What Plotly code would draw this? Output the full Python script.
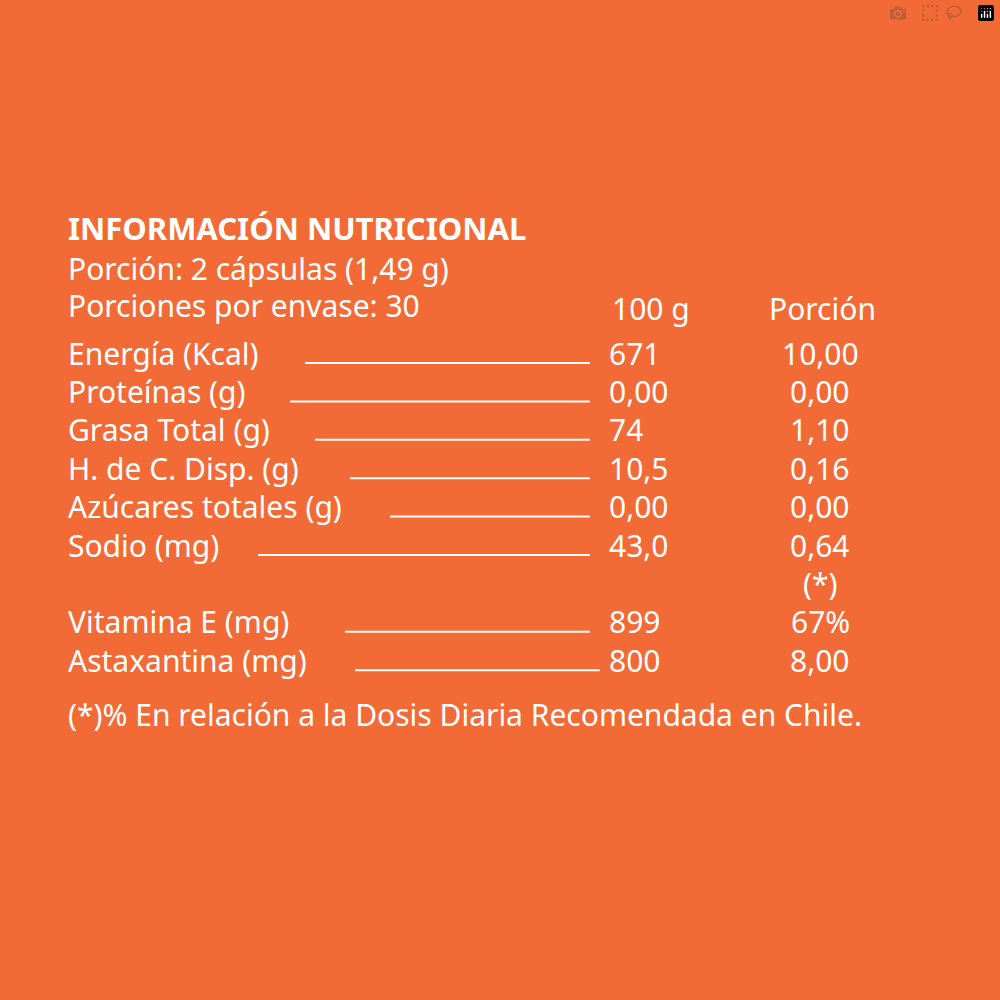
import plotly.graph_objects as go

labels = ["Energía (Kcal)", "Proteínas (g)", "Grasa Total (g)", "H. de C. Disp. (g)",
          "Azúcares totales (g)", "Sodio (mg)", "", "Vitamina E (mg)", "Astaxantina (mg)"]
per100 = ["671", "0,00", "74", "10,5", "0,00", "43,0", "", "899", "800"]
portion = ["10,00", "0,00", "1,10", "0,16", "0,00", "0,64", "(*)", "67%", "8,00"]
line_start = [305, 290, 315, 350, 390, 258, None, 345, 355]
line_end = [590, 590, 590, 590, 590, 590, None, 590, 600]

BG = "#F26A36"
FONT = "Noto Sans"
SIZE = 30
fig = go.Figure()
ann = []
shapes = []

def t(x, y, s, anchor="left", bold=False, size=SIZE):
    ann.append(dict(x=x, y=y, text=("<b>%s</b>" % s) if bold else s, showarrow=False,
                    xanchor=anchor, yanchor="middle", xref="x", yref="y",
                    font=dict(family=FONT, size=size, color="white")))

t(66, 228, "INFORMACIÓN NUTRICIONAL", bold=True, size=31)
t(66, 268, "Porción: 2 cápsulas (1,49 g)")
t(66, 305, "Porciones por envase: 30")
t(610, 308, "100 g")
t(822, 308, "Porción", anchor="center")
y0, dy = 353, 38.4
for i, lab in enumerate(labels):
    y = y0 + i * dy
    if lab:
        t(66, y, lab)
    if per100[i]:
        t(607, y, per100[i])
    t(820, y, portion[i], anchor="center")
    if line_start[i] is not None:
        shapes.append(dict(type="line", x0=line_start[i], x1=line_end[i], y0=y + 10, y1=y + 10,
                           xref="x", yref="y", line=dict(color="white", width=2)))
t(66, 714, "(*)% En relación a la Dosis Diaria Recomendada en Chile.")

fig.add_trace(go.Scatter(x=[0], y=[0], mode="markers", marker=dict(opacity=0), hoverinfo="skip"))
fig.update_layout(width=1000, height=1000, margin=dict(l=0, r=0, t=0, b=0),
                  paper_bgcolor=BG, plot_bgcolor=BG, showlegend=False,
                  annotations=ann, shapes=shapes,
                  xaxis=dict(range=[0, 1000], visible=False, fixedrange=True),
                  yaxis=dict(range=[1000, 0], visible=False, fixedrange=True))
fig.write_html("out.html")
with open("out.html", encoding="utf-8") as f:
    html = f.read()
html = html.replace("<head>", "<head><style>html,body{margin:0;padding:0;background:%s;}</style>" % BG, 1)
with open("out.html", "w", encoding="utf-8") as f:
    f.write(html)
